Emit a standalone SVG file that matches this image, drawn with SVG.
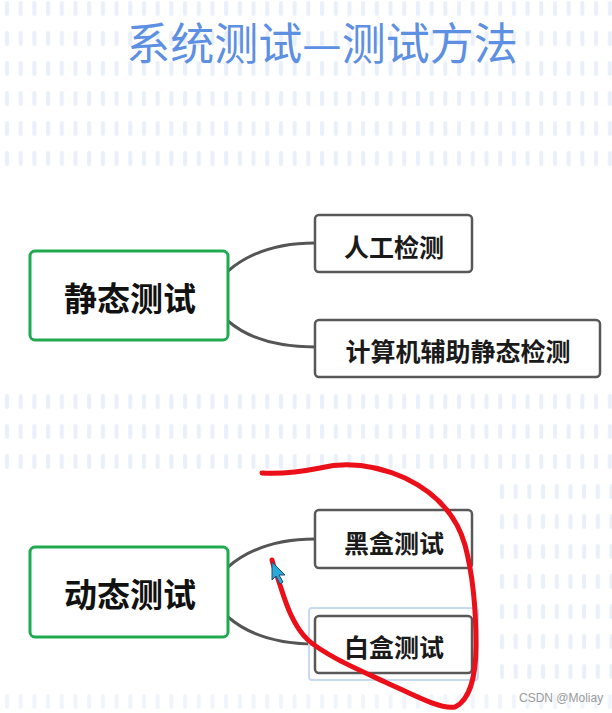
<svg xmlns="http://www.w3.org/2000/svg" width="612" height="713" viewBox="0 0 612 713">
<defs>
  <pattern id="dash" x="0" y="0" width="13.7" height="30" patternUnits="userSpaceOnUse">
    <rect x="5" y="1" width="4" height="15" rx="2" fill="#e9f0fa"/>
  </pattern>
  <style>
    .child rect { fill: #ffffff; stroke: #585858; stroke-width: 2.5; }
    .child text, .root text { font-family: "Noto Sans CJK SC", "Noto Sans", sans-serif; font-weight: bold; fill: #1a1a1a; text-anchor: middle; dominant-baseline: central; }
    .child text { font-size: 25px; }
    .root rect { fill: #ffffff; stroke: #1faa50; stroke-width: 3; }
    .root text { font-size: 33px; fill: #111; }
    .conn path { fill: none; stroke: #555555; stroke-width: 3; }
  </style>
</defs>
<rect width="612" height="713" fill="#ffffff"/>
<!-- background dashes -->
<rect x="0" y="0" width="612" height="168" fill="url(#dash)"/>
<g transform="translate(0,393)"><rect x="0" y="0" width="612" height="80" fill="url(#dash)"/></g>
<g transform="translate(495,483)"><rect x="0" y="0" width="117" height="210" fill="url(#dash)"/></g>
<g transform="translate(0,693)"><rect x="0" y="0" width="612" height="20" fill="url(#dash)" opacity="0.7"/></g>

<text x="322" y="60" font-family="Noto Sans CJK SC, Noto Sans, sans-serif" font-size="44" fill="#5d8fe2" text-anchor="middle">系统测试—测试方法</text>

<g id="connectors" class="conn">
  <path d="M228,271 C250,252 280,243 315,243"/>
  <path d="M228,321 C250,340 280,347 315,347"/>
  <path d="M228,567 C250,548 280,539 315,539"/>
  <path d="M228,617 C250,636 280,644 315,644"/>
</g>

<g id="static-test" class="root">
  <rect x="30" y="251" width="198" height="89" rx="5"/>
  <text x="130" y="297">静态测试</text>
</g>
<g id="manual-check" class="child">
  <rect x="315" y="215" width="157" height="57" rx="4"/>
  <text x="394" y="246">人工检测</text>
</g>
<g id="computer-check" class="child">
  <rect x="315" y="320" width="285" height="57" rx="4"/>
  <text x="458" y="350">计算机辅助静态检测</text>
</g>

<g id="dynamic-test" class="root">
  <rect x="30" y="547" width="198" height="90" rx="5"/>
  <text x="130" y="593">动态测试</text>
</g>
<g id="black-box" class="child">
  <rect x="315" y="510" width="157" height="58" rx="4"/>
  <text x="394" y="542">黑盒测试</text>
</g>
<g id="white-box-select">
  <rect x="309" y="608" width="169" height="72" rx="3" fill="none" stroke="#c8daf2" stroke-width="2"/>
</g>
<g id="white-box" class="child">
  <rect x="315" y="616" width="157" height="57" rx="4"/>
  <text x="394" y="646">白盒测试</text>
</g>

<path d="M262,473 C280,474 300,472 320,468 C345,462 375,465 405,478 C430,490 455,510 465,545 C473,575 476,610 476,645 C476,675 470,700 455,707 C440,710 410,693 385,682 C355,668 325,655 308,640 C292,625 285,600 280,585 C276,572 273,565 272,560" fill="none" stroke="#ea0f18" stroke-width="5" stroke-linecap="round" stroke-linejoin="round"/>

<polygon points="272,562 272,580 276,576 280,584 283,582 279,575 285,575" fill="#2aa8d8" stroke="#1d4f73" stroke-width="1"/>

<text x="519" y="702" font-family="Liberation Sans, sans-serif" font-size="12" fill="#9a9a9a">CSDN @Moliay</text>
</svg>
